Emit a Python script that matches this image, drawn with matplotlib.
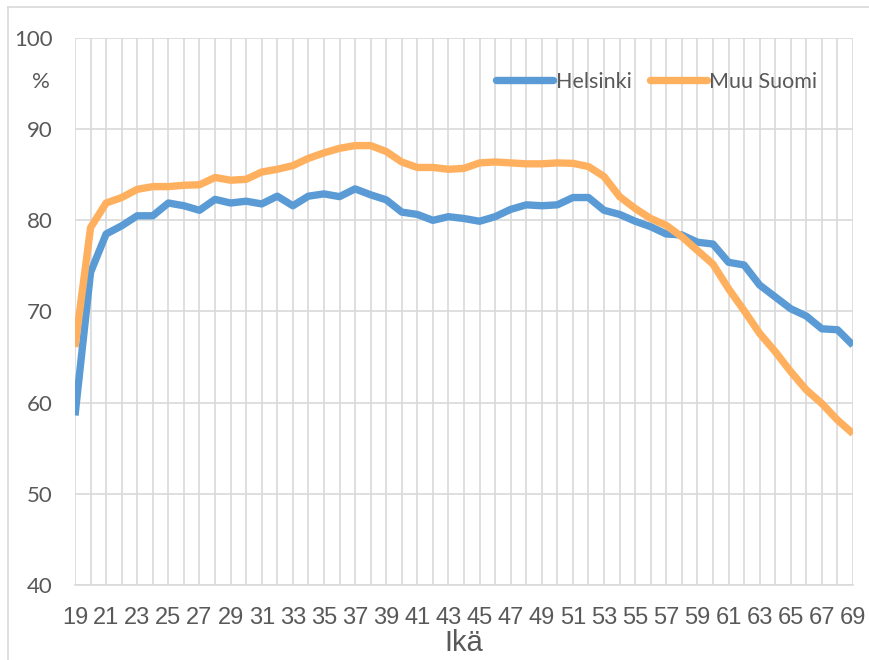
import matplotlib
matplotlib.use("Agg")
import matplotlib.pyplot as plt
from matplotlib.ticker import MultipleLocator, FixedLocator
from matplotlib.lines import Line2D

plt.rcParams['font.family'] = ['Lato', 'DejaVu Sans']
NARROW = ['Liberation Sans Narrow', 'Liberation Sans', 'DejaVu Sans']

ages = list(range(19, 70))
helsinki = [58.6, 74.3, 78.5, 79.4, 80.5, 80.5, 81.9, 81.6, 81.1, 82.3,
            81.9, 82.1, 81.8, 82.65, 81.6, 82.65, 82.9, 82.6, 83.45, 82.8,
            82.25, 80.9, 80.65, 80.0, 80.4, 80.2, 79.9, 80.4, 81.2, 81.7,
            81.6, 81.7, 82.5, 82.5, 81.1, 80.65, 79.9, 79.3, 78.5, 78.4,
            77.6, 77.4, 75.4, 75.1, 72.9, 71.6, 70.3, 69.5, 68.1, 68.0, 66.3]
muu_suomi = [66.1, 79.2, 81.9, 82.5, 83.4, 83.7, 83.7, 83.85, 83.9, 84.7,
             84.4, 84.5, 85.3, 85.6, 86.0, 86.8, 87.4, 87.9, 88.2, 88.2,
             87.55, 86.4, 85.8, 85.8, 85.6, 85.7, 86.3, 86.4, 86.3, 86.2,
             86.2, 86.3, 86.25, 85.9, 84.8, 82.6, 81.3, 80.2, 79.45, 78.2,
             76.7, 75.2, 72.5, 70.1, 67.6, 65.6, 63.4, 61.4, 59.9, 58.1, 56.6]
series_names = ["Helsinki", "Muu Suomi"]
x_ticks = list(range(19, 70, 2))
y_ticks = [40, 50, 60, 70, 80, 90, 100]
x_title = "Ikä"
y_title = "%"

W, H = 869, 660
fig = plt.figure(figsize=(W / 100, H / 100), dpi=100)
ax = fig.add_axes([75 / W, 1 - 585 / H, (853 - 75) / W, (585 - 38) / H])

text_color = "#595959"
grid_color = "#d9d9d9"

ax.plot(ages, helsinki, color="#5B9BD5", lw=5.3, solid_capstyle="butt",
        solid_joinstyle="round", label=series_names[0], zorder=3)
ax.plot(ages, muu_suomi, color="#FFB05F", lw=5.3, solid_capstyle="butt",
        solid_joinstyle="round", label=series_names[1], zorder=3)

ax.set_xlim(19, 69)
ax.set_ylim(40, 100)
ax.xaxis.set_major_locator(FixedLocator(x_ticks))
ax.xaxis.set_minor_locator(MultipleLocator(1))
ax.yaxis.set_major_locator(FixedLocator(y_ticks))
ax.grid(True, which="both", axis="x", color=grid_color, lw=1.2, zorder=0)
ax.grid(True, which="major", axis="y", color=grid_color, lw=1.2, zorder=0)
ax.set_axisbelow(True)
for s in ax.spines.values():
    s.set_visible(False)
ax.plot([19, 69], [40, 40], color=grid_color, lw=1.2, clip_on=False, zorder=1)

ax.tick_params(axis="both", which="both", length=0, labelcolor=text_color)
ax.tick_params(axis="y", pad=16, labelsize=16)
ax.tick_params(axis="x", pad=16, labelsize=17)
for lab in ax.get_xticklabels():
    lab.set_fontfamily(NARROW)
ax.set_xlabel(x_title, fontsize=21, color=text_color, family=NARROW, va="center")
ax.xaxis.set_label_coords(0.5, (585 - 643) / (585 - 38))

fig.text(41 / W, 1 - 82 / H, y_title, fontsize=16, color=text_color, ha="center", va="center")

leg = ax.legend(loc="center left", bbox_to_anchor=(496 / W, 1 - 82 / H),
                bbox_transform=fig.transFigure, ncol=2, frameon=False,
                fontsize=15.5, handlelength=2.65, handletextpad=0.12,
                columnspacing=0.85, borderpad=0, borderaxespad=0)
for t in leg.get_texts():
    t.set_color(text_color)
for h in leg.get_lines():
    h.set_solid_capstyle("round")

# outer chart border (left/top visible in reference)
fig.add_artist(Line2D([8 / W, 8 / W], [0, 1 - 7 / H], transform=fig.transFigure, color=grid_color, lw=1.2))
fig.add_artist(Line2D([8 / W, 1], [1 - 7 / H, 1 - 7 / H], transform=fig.transFigure, color=grid_color, lw=1.2))

fig.savefig("out.png", dpi=100)
